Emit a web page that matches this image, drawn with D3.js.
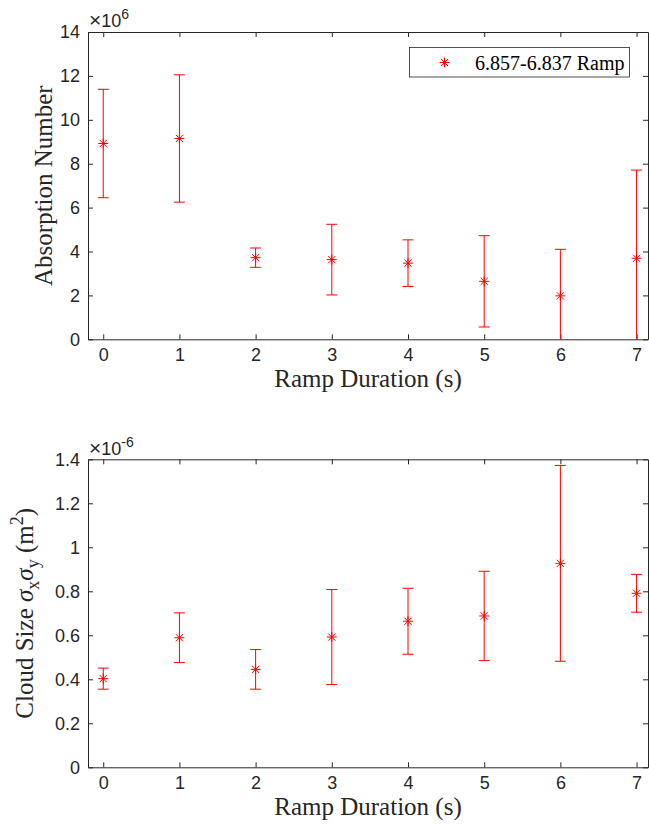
<!DOCTYPE html>
<html>
<head>
<meta charset="utf-8">
<script src="https://cdn.jsdelivr.net/npm/d3@7"></script>
<style>
  body { margin: 0; background: #fff; }
  svg { display: block; }
</style>
</head>
<body>
<div class="container"></div>
<script>
const w = 649, h = 829;

// ramp durations (s)
const durations = [0, 1, 2, 3, 4, 5, 6, 7];
const xTicks = [0, 1, 2, 3, 4, 5, 6, 7];

// absorption number, in units of 1e6
const absMean = [8.92, 9.15, 3.72, 3.63, 3.47, 2.64, 1.98, 3.69];
const absErr = [2.47, 2.9, 0.44, 1.61, 1.06, 2.08, 2.12, 4.02];
const absTicks = [0, 2, 4, 6, 8, 10, 12, 14];

// cloud size sigma_x sigma_y, in units of 1e-6 m^2
const sizeMean = [0.403, 0.589, 0.445, 0.592, 0.664, 0.688, 0.927, 0.791];
const sizeErr = [0.048, 0.113, 0.09, 0.216, 0.15, 0.203, 0.445, 0.086];
const sizeTicks = [0, 0.2, 0.4, 0.6, 0.8, 1, 1.2, 1.4];

const legendLabel = "6.857-6.837 Ramp";

const axisColor = "#262626";
const red = "#ff0000";
const sansFont = "Liberation Sans, Arial, Helvetica, sans-serif";
const serifFont = "Liberation Serif, Times New Roman, serif";
const tickSize = 18;

const svg = d3.select(".container")
  .append("svg")
  .attr("width", w)
  .attr("height", h)
  .attr("viewBox", [0, 0, w, h]);

svg.append("rect").attr("width", w).attr("height", h).attr("fill", "#fff");

const xScale = d3.scaleLinear()
  .domain([-0.2, 7.15])
  .range([88, 648]);

// asterisk marker like matlab '*'
function star(cx, cy, r) {
  const d = r * 0.72;
  return `M${cx - r},${cy}H${cx + r}M${cx},${cy - r}V${cy + r}` +
    `M${cx - d},${cy - d}L${cx + d},${cy + d}M${cx - d},${cy + d}L${cx + d},${cy - d}`;
}

function panel(id, top, bottom, yMax, ticks, mean, err) {
  const yScale = d3.scaleLinear().domain([0, yMax]).range([bottom, top]);
  const [x0, x1] = xScale.range();
  const g = svg.append("g");

  g.append("clipPath").attr("id", id)
    .append("rect")
    .attr("x", x0).attr("y", top)
    .attr("width", x1 - x0).attr("height", bottom - top);

  const styleAxis = sel => {
    sel.attr("font-size", tickSize).attr("font-family", sansFont);
    sel.selectAll("path").attr("stroke", axisColor).attr("stroke-width", 1);
    sel.selectAll("line").attr("stroke", axisColor).attr("stroke-width", 1);
    sel.selectAll("text").attr("fill", axisColor);
  };

  g.append("g")
    .attr("transform", `translate(0,${bottom})`)
    .call(d3.axisBottom(xScale).tickValues(xTicks).tickSizeInner(-5).tickSizeOuter(0).tickPadding(9))
    .call(styleAxis);
  g.append("g")
    .attr("transform", `translate(0,${top})`)
    .call(d3.axisTop(xScale).tickValues(xTicks).tickSizeInner(-5).tickSizeOuter(0).tickFormat(""))
    .call(styleAxis);
  g.append("g")
    .attr("transform", `translate(${x0},0)`)
    .call(d3.axisLeft(yScale).tickValues(ticks).tickSizeInner(-5).tickSizeOuter(0).tickPadding(8).tickFormat(d => String(d)))
    .call(styleAxis);
  g.append("g")
    .attr("transform", `translate(${x1},0)`)
    .call(d3.axisRight(yScale).tickValues(ticks).tickSizeInner(-5).tickSizeOuter(0).tickFormat(""))
    .call(styleAxis);

  const data = durations.map((d, i) => ({ x: d, y: mean[i], e: err[i] }));
  const marks = g.append("g").attr("clip-path", `url(#${id})`)
    .attr("stroke", red).attr("stroke-width", 1).attr("fill", "none");
  const cap = 5.5;

  marks.selectAll("path.bar")
    .data(data)
    .join("path")
    .attr("class", "bar")
    .attr("d", d => {
      const x = xScale(d.x), hi = yScale(d.y + d.e), lo = yScale(d.y - d.e);
      return `M${x},${lo}V${hi}M${x - cap},${hi}H${x + cap}M${x - cap},${lo}H${x + cap}`;
    });

  marks.selectAll("path.star")
    .data(data)
    .join("path")
    .attr("class", "star")
    .attr("d", d => star(xScale(d.x), yScale(d.y), 5));

  // x label
  g.append("text")
    .attr("x", (x0 + x1) / 2)
    .attr("y", bottom + 48)
    .attr("text-anchor", "middle")
    .attr("fill", axisColor)
    .attr("font-family", serifFont)
    .attr("font-size", 25)
    .text("Ramp Duration (s)");

  return { g, yScale };
}

function multiplier(g, y, exp) {
  const t = g.append("text")
    .attr("x", 89).attr("y", y)
    .attr("fill", axisColor)
    .attr("font-family", sansFont)
    .attr("font-size", tickSize);
  t.append("tspan").attr("font-size", 21).text("\u00d7");
  t.append("tspan").text("10");
  t.append("tspan").attr("dy", -8).attr("font-size", 14).text(exp);
}

// top panel
const topP = panel("clipTop", 32, 339.3, 14, absTicks, absMean, absErr);
topP.g.append("text")
  .attr("transform", `translate(52,${(32 + 339.3) / 2}) rotate(-90)`)
  .attr("text-anchor", "middle")
  .attr("fill", axisColor)
  .attr("font-family", serifFont)
  .attr("font-size", 25)
  .text("Absorption Number");
multiplier(topP.g, 27, "6");

// legend
const leg = topP.g.append("g");
leg.append("rect")
  .attr("x", 409.5).attr("y", 47.5)
  .attr("width", 220).attr("height", 29.5)
  .attr("fill", "#fff")
  .attr("stroke", axisColor)
  .attr("stroke-width", 0.8);
leg.append("path")
  .attr("d", star(444.5, 62.5, 5))
  .attr("stroke", red)
  .attr("fill", "none");
leg.append("text")
  .attr("x", 475).attr("y", 69.5)
  .attr("fill", "#000")
  .attr("font-family", serifFont)
  .attr("font-size", 20)
  .text(legendLabel);

// bottom panel
const botP = panel("clipBot", 459.3, 767.3, 1.4, sizeTicks, sizeMean, sizeErr);
const yl = botP.g.append("text")
  .attr("transform", `translate(33,${(459.3 + 767.3) / 2}) rotate(-90)`)
  .attr("text-anchor", "middle")
  .attr("fill", axisColor)
  .attr("font-family", serifFont)
  .attr("font-size", 25);
yl.append("tspan").text("Cloud Size ");
yl.append("tspan").attr("font-style", "italic").text("\u03c3");
yl.append("tspan").attr("dy", 6).attr("font-size", 18).text("x");
yl.append("tspan").attr("dy", -6).attr("font-style", "italic").text("\u03c3");
yl.append("tspan").attr("dy", 6).attr("font-size", 18).text("y");
yl.append("tspan").attr("dy", -6).text(" (m");
yl.append("tspan").attr("dy", -10).attr("font-size", 18).text("2");
yl.append("tspan").attr("dy", 10).text(")");
multiplier(botP.g, 454.5, "-6");
</script>
</body>
</html>
